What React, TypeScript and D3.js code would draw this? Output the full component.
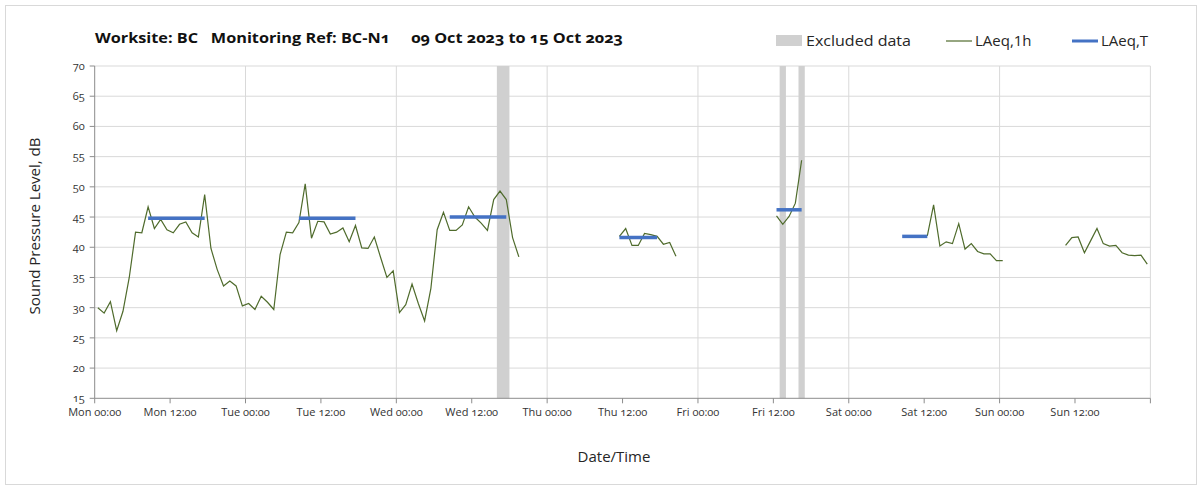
import React from 'react';
import * as d3 from 'd3';

const DAYS = ['Mon', 'Tue', 'Wed', 'Thu', 'Fri', 'Sat', 'Sun'];
const TICK_LABELS = [
  'Mon 00:00', 'Mon 12:00', 'Tue 00:00', 'Tue 12:00', 'Wed 00:00', 'Wed 12:00', 'Thu 00:00',
  'Thu 12:00', 'Fri 00:00', 'Fri 12:00', 'Sat 00:00', 'Sat 12:00', 'Sun 00:00', 'Sun 12:00',
];
const Y_TICKS = [15, 20, 25, 30, 35, 40, 45, 50, 55, 60, 65, 70];

const _ = null;
// LAeq,1h values per day, hour 00..23 (null = no data)
const MON = [30.0, 29.1, 31.0, 26.2, 29.4, 35.0, 42.5, 42.4, 46.7, 43.1, 44.6, 42.9, 42.4, 43.8, 44.2, 42.4, 41.7, 48.7, 39.8, 36.3, 33.6, 34.4, 33.6, 30.3];
const TUE = [30.7, 29.7, 31.9, 30.9, 29.7, 38.8, 42.5, 42.4, 44.1, 50.5, 41.5, 44.3, 44.2, 42.2, 42.5, 43.2, 40.9, 43.6, 39.9, 39.8, 41.7, 38.3, 35.0, 36.1];
const WED = [29.2, 30.5, 33.9, 30.7, 27.8, 33.2, 42.9, 45.8, 42.8, 42.8, 43.7, 46.7, 45.0, 44.0, 42.8, 47.9, 49.3, 47.9, 41.6, 38.4, _, _, _, _];
const THU = [_, _, _, _, _, _, _, _, _, _, _, 41.8, 43.1, 40.3, 40.3, 42.3, 42.1, 41.8, 40.5, 40.8, 38.5, _, _, _];
const FRI = [_, _, _, _, _, _, _, _, _, _, _, _, 45.2, 43.8, 45.1, 47.3, 54.4, _, _, _, _, _, _, _];
const SAT = [_, _, _, _, _, _, _, _, _, _, _, _, 41.9, 47.0, 40.2, 40.9, 40.6, 43.9, 39.7, 40.6, 39.3, 38.9, 38.9, 37.8];
const SUN = [37.8, _, _, _, _, _, _, _, _, _, 40.3, 41.6, 41.7, 39.1, 41.1, 43.1, 40.6, 40.2, 40.3, 39.1, 38.7, 38.6, 38.7, 37.2];
const HOURLY = [MON, TUE, WED, THU, FRI, SAT, SUN];

// LAeq,T periods: day index, first hour, last hour, level
const LAEQ_T_DAY = [0, 1, 2, 3, 4, 5];
const LAEQ_T_FROM = [8, 8, 8, 11, 12, 8];
const LAEQ_T_TO = [17, 17, 17, 17, 16, 12];
const LAEQ_T_VAL = [44.8, 44.8, 45.0, 41.6, 46.2, 41.8];

// Excluded data windows: day index, start hour, end hour
const EXCL_DAY = [2, 4, 4];
const EXCL_FROM = [16, 13, 16];
const EXCL_TO = [18, 14, 17];

const W = 1203;
const H = 490;
const FONT = '"Open Sans", "DejaVu Sans", sans-serif';

export default function App() {
  const x = d3.scaleLinear().domain([0, 168]).range([94.7, 1150.4]);
  const y = d3.scaleLinear().domain([15, 70]).range([398.3, 66]);

  const points: { t: number; v: number | null }[] = [];
  HOURLY.forEach((arr, d) => arr.forEach((v, h) => points.push({ t: d * 24 + h + 0.5, v })));

  const line = d3
    .line<{ t: number; v: number | null }>()
    .defined((d) => d.v != null)
    .x((d) => x(d.t))
    .y((d) => y(d.v as number));

  const xTicks = d3.range(0, 169, 12);
  const dayLines = d3.range(24, 169, 24);

  const grey = '#d9d9d9';
  const axisCol = '#8c8c8c';
  const textCol = '#333333';

  return (
    <div style={{ position: 'absolute', left: 0, top: 0 }}>
      <svg width={W} height={H} style={{ display: 'block', fontFamily: FONT }}>
        <rect x={0} y={0} width={W} height={H} fill="#fff" />
        <rect x={5.5} y={5.5} width={1191} height={479} fill="none" stroke="#d9d9d9" strokeWidth={1} />

        {/* horizontal gridlines */}
        {Y_TICKS.filter((v) => v > 15).map((v) => (
          <line key={'hg' + v} x1={x(0)} x2={x(168)} y1={y(v)} y2={y(v)} stroke={grey} strokeWidth={1} />
        ))}
        {/* vertical day gridlines */}
        {dayLines.map((t) => (
          <line key={'vg' + t} x1={x(t)} x2={x(t)} y1={y(70)} y2={y(15)} stroke={grey} strokeWidth={1} />
        ))}

        {/* excluded windows */}
        {EXCL_DAY.map((d, i) => {
          const x0 = x(d * 24 + EXCL_FROM[i]);
          const x1 = x(d * 24 + EXCL_TO[i]);
          return <rect key={'ex' + i} x={x0} y={y(70)} width={x1 - x0} height={y(15) - y(70)} fill="#d0d0d0" />;
        })}

        {/* axes */}
        <line x1={x(0)} x2={x(0)} y1={y(70)} y2={y(15)} stroke={axisCol} strokeWidth={1} />
        <line x1={x(0)} x2={x(168)} y1={y(15)} y2={y(15)} stroke={axisCol} strokeWidth={1} />
        {Y_TICKS.map((v) => (
          <g key={'yt' + v}>
            <line x1={x(0) - 5} x2={x(0)} y1={y(v)} y2={y(v)} stroke={axisCol} />
            <text
              x={x(0) - 10}
              y={y(v)}
              dy="0.35em"
              textAnchor="end"
              fontSize={11}
              fill={textCol}
              style={{ fontVariantNumeric: 'oldstyle-nums' }}
            >
              {v}
            </text>
          </g>
        ))}
        {xTicks.map((t, i) => (
          <g key={'xt' + t}>
            <line x1={x(t)} x2={x(t)} y1={y(15)} y2={y(15) + 5} stroke={axisCol} />
            {TICK_LABELS[i] && (
              <text
                x={x(t)}
                y={y(15) + 18}
                textAnchor="middle"
                fontSize={11}
                fill={textCol}
                style={{ fontVariantNumeric: 'oldstyle-nums' }}
              >
                {TICK_LABELS[i]}
              </text>
            )}
          </g>
        ))}

        {/* LAeq,1h */}
        <path d={line(points) || ''} fill="none" stroke="#4f6b2c" strokeWidth={1.2} />

        {/* LAeq,T */}
        {LAEQ_T_DAY.map((d, i) => (
          <line
            key={'lt' + i}
            x1={x(d * 24 + LAEQ_T_FROM[i] + 0.5)}
            x2={x(d * 24 + LAEQ_T_TO[i] + 0.5)}
            y1={y(LAEQ_T_VAL[i])}
            y2={y(LAEQ_T_VAL[i])}
            stroke="#4472c4"
            strokeWidth={3.5}
          />
        ))}

        {/* title */}
        <text
          x={95}
          y={43}
          fontSize={15}
          fontWeight="bold"
          fill="#111"
          textLength={528}
          lengthAdjust="spacingAndGlyphs"
          xmlSpace="preserve"
          style={{ whiteSpace: 'pre', fontVariantNumeric: 'oldstyle-nums' }}
        >
          {'Worksite: BC   Monitoring Ref: BC-N1     09 Oct 2023 to 15 Oct 2023'}
        </text>

        {/* legend */}
        <rect x={776} y={35} width={26} height={11} fill="#d0d0d0" />
        <text x={806} y={46} fontSize={15} fill="#262626" textLength={105} lengthAdjust="spacingAndGlyphs">
          Excluded data
        </text>
        <line x1={946} x2={972} y1={41} y2={41} stroke="#4f6b2c" strokeWidth={1.2} />
        <text x={975} y={46} fontSize={15} fill="#262626">LAeq,1h</text>
        <line x1={1072} x2={1098} y1={41} y2={41} stroke="#4472c4" strokeWidth={3} />
        <text x={1101} y={46} fontSize={15} fill="#262626">LAeq,T</text>

        {/* axis titles */}
        <text
          transform={`translate(40, 226) rotate(-90)`}
          textAnchor="middle"
          fontSize={15}
          fill="#262626"
        >
          Sound Pressure Level, dB
        </text>
        <text x={614} y={462} textAnchor="middle" fontSize={15} fill="#262626">
          Date/Time
        </text>
      </svg>
    </div>
  );
}
